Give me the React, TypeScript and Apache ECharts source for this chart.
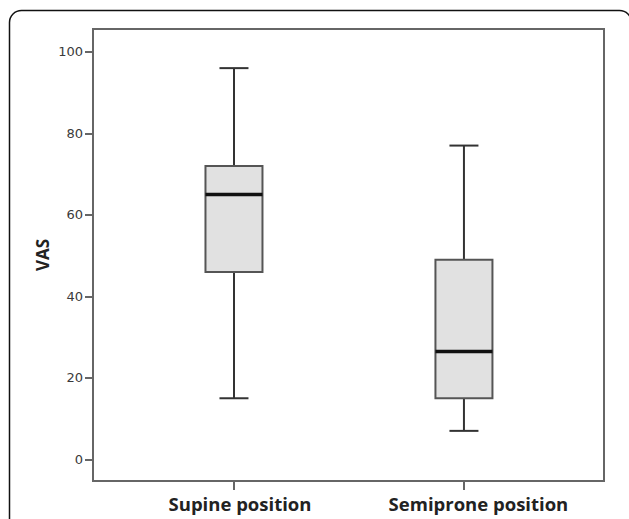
import React, { useEffect, useRef } from "react";
import * as echarts from "echarts";

const categories = ["Supine position", "Semiprone position"];
const categoryPositions = [0, 1];
// [lower whisker, Q1, median, Q3, upper whisker]
const supineStats = [15, 46, 65, 72, 96];
const semiproneStats = [7, 15, 26.5, 49, 77];
const yTicks = [0, 20, 40, 60, 80, 100];
const yAxisName = "VAS";

export default function App() {
  const ref = useRef<HTMLDivElement>(null);
  useEffect(() => {
    if (!ref.current) return;
    const chart = echarts.init(ref.current, null, { renderer: "svg" });
    const rows = [supineStats, semiproneStats].map((s, i) => [categoryPositions[i], ...s]);
    const labelStyle = {
      fontSize: 18.5,
      fontWeight: "bold",
      fontFamily: "Open Sans",
      color: "#222",
    };
    const option: any = {
      animation: false,
      backgroundColor: "#ffffff",
      grid: { left: 93, top: 29, right: 25, bottom: 38 },
      xAxis: {
        type: "value",
        min: -0.613,
        max: 1.609,
        axisLine: { show: false, onZero: false },
        axisTick: {
          show: true,
          customValues: categoryPositions,
          length: 9,
          lineStyle: { color: "#333", width: 1.5 },
        },
        axisLabel: {
          customValues: categoryPositions,
          formatter: (v: number) => {
            const i = Math.round(v);
            return "{c" + i + "|" + (categories[i] ?? "") + "}";
          },
          rich: {
            c0: { ...labelStyle, padding: [0, 0, 0, 12] },
            c1: { ...labelStyle, padding: [0, 0, 0, 29] },
          },
          ...labelStyle,
          margin: 13,
        },
        splitLine: { show: false },
      },
      yAxis: {
        type: "value",
        min: -5.3,
        max: 105.6,
        name: yAxisName,
        nameLocation: "middle",
        nameRotate: 90,
        nameGap: 42,
        nameMoveOverlap: false,
        nameTextStyle: {
          fontSize: 17,
          fontWeight: "bold",
          fontFamily: "Open Sans",
          color: "#222",
        },
        axisLine: { show: false, onZero: false },
        axisTick: {
          show: true,
          customValues: yTicks,
          length: 8,
          lineStyle: { color: "#333", width: 1.5 },
        },
        axisLabel: {
          customValues: yTicks,
          fontSize: 13,
          fontFamily: "DejaVu Sans",
          color: "#3a3a3a",
          margin: 10,
        },
        splitLine: { show: false },
      },
      graphic: [
        {
          type: "rect",
          shape: { x: 9.5, y: 10.5, width: 622, height: 560, r: 12 },
          style: { fill: "none", stroke: "#111", lineWidth: 1.5 },
          z: 0,
        },
        {
          type: "rect",
          shape: { x: 93, y: 29, width: 511, height: 452 },
          style: { fill: "none", stroke: "#666", lineWidth: 2 },
          z: 10,
        },
      ],
      series: [
        {
          type: "custom",
          data: rows,
          renderItem: (params: any, api: any) => {
            const idx = api.value(0);
            const x = api.coord([idx, 0])[0];
            const yMin = api.coord([idx, api.value(1)])[1];
            const yQ1 = api.coord([idx, api.value(2)])[1];
            const yMed = api.coord([idx, api.value(3)])[1];
            const yQ3 = api.coord([idx, api.value(4)])[1];
            const yMax = api.coord([idx, api.value(5)])[1];
            const hb = 28.5;
            const hc = 14.5;
            const ws = { stroke: "#333", lineWidth: 2 };
            return {
              type: "group",
              children: [
                { type: "line", shape: { x1: x, y1: yMax, x2: x, y2: yQ3 }, style: ws },
                { type: "line", shape: { x1: x, y1: yQ1, x2: x, y2: yMin }, style: ws },
                { type: "line", shape: { x1: x - hc, y1: yMax, x2: x + hc, y2: yMax }, style: ws },
                { type: "line", shape: { x1: x - hc, y1: yMin, x2: x + hc, y2: yMin }, style: ws },
                {
                  type: "rect",
                  shape: { x: x - hb, y: yQ3, width: 2 * hb, height: yQ1 - yQ3 },
                  style: { fill: "#e1e1e1", stroke: "#555", lineWidth: 2 },
                },
                {
                  type: "line",
                  shape: { x1: x - hb, y1: yMed, x2: x + hb, y2: yMed },
                  style: { stroke: "#111", lineWidth: 3.5 },
                },
              ],
            };
          },
        },
      ],
    };
    chart.setOption(option);
    return () => chart.dispose();
  }, []);
  return (
    <div
      ref={ref}
      style={{ position: "fixed", left: 0, top: 0, width: 629, height: 519, background: "#fff" }}
    />
  );
}
